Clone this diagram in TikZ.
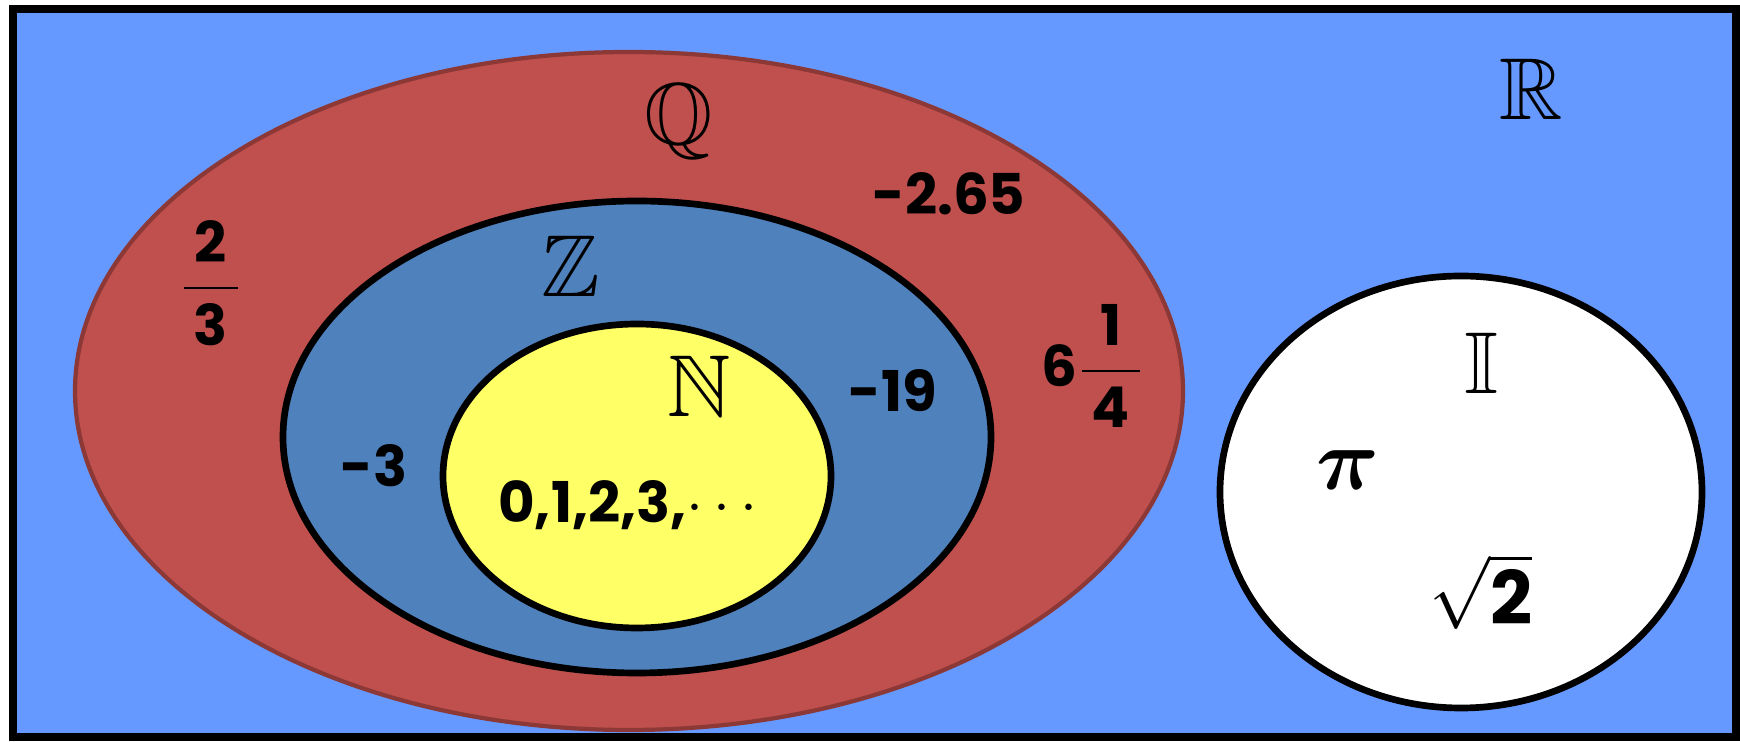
\documentclass[tikz,border=0pt]{standalone}
\usepackage{amsmath,amssymb,bm}
\usepackage{fontspec}
\setmainfont{Poppins}
\usepackage{tikz}
\usetikzlibrary{shapes.geometric}

\definecolor{realblue}{HTML}{6699FF}
\definecolor{ratred}{HTML}{C0504D}
\definecolor{ratedge}{HTML}{8C3836}
\definecolor{intblue}{HTML}{4F81BD}
\definecolor{natyellow}{HTML}{FFFF66}

\begin{document}
\begin{tikzpicture}[
    set/.style={ellipse, draw=black, line width=1.9pt, inner sep=0pt},
    setname/.style={font=\fontsize{25}{28}\selectfont},
    num/.style={font=\fontsize{16}{18}\selectfont\bfseries, align=center}
]
\useasboundingbox (0,0) rectangle (17.4,7.42);

% Real numbers
\draw[fill=realblue, line width=2.3pt] (0.13,0.05) rectangle (17.36,7.33);

% Sets
\node[set, fill=ratred, draw=ratedge, line width=1.2pt, minimum width=11.08cm, minimum height=6.78cm] (rat) at (6.29,3.51) {};
\node[set, fill=intblue, minimum width=7.08cm, minimum height=4.72cm] (int) at (6.37,3.05) {};
\node[set, fill=natyellow, minimum width=3.88cm, minimum height=3.04cm] (nat) at (6.37,2.66) {};
\node[set, fill=white, minimum width=4.82cm, minimum height=4.32cm] (irr) at (14.61,2.50) {};

% Set names
\node[setname] (R) at (15.31,6.53) {$\mathbb{R}$};
\node[setname] (Q) at (6.79,6.20) {$\mathbb{Q}$};
\node[setname] (Z) at (5.71,4.76) {$\mathbb{Z}$};
\node[setname] (N) at (6.99,3.56) {$\mathbb{N}$};
\node[setname] (I) at (14.82,3.79) {$\mathbb{I}$};

% Elements
\node[num] (twothirds) at (2.11,4.59) {$\dfrac{\,\text{\bfseries 2}\,}{\,\text{\bfseries 3}\,}$};
\node[num] (dec) at (9.49,5.48) {-2.65};
\node[num] (mixed) at (10.93,3.76) {6$\dfrac{\,\text{\bfseries 1}\,}{\,\text{\bfseries 4}\,}$};
\node[num] (m19) at (8.93,3.51) {-19};
\node[num] (m3) at (3.74,2.76) {-3};
\node[num] (nats) at (6.33,2.37) {0,1,2,3,$\cdots$};
\node[num, font=\fontsize{24}{26}\selectfont] (pi) at (13.48,2.72) {$\bm{\pi}$};
\node[num, font=\fontsize{21}{24}\selectfont\bfseries] (sqrttwo) at (14.81,1.50) {$\sqrt{\text{\bfseries 2}}$};

\end{tikzpicture}
\end{document}
